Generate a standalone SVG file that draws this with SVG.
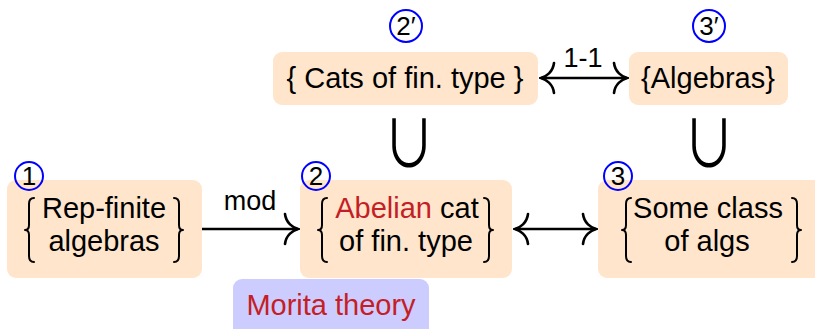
<svg xmlns="http://www.w3.org/2000/svg" width="815" height="329" viewBox="0 0 815 329">
  <style>
    .box { fill: #ffe5cc; }
    .morita { fill: #ccccff; }
    .t { font-family: "Liberation Sans", Arial, sans-serif; font-size: 29px; fill: #000; text-anchor: middle; }
    .lbl { font-family: "Liberation Sans", Arial, sans-serif; font-size: 27px; fill: #000; text-anchor: middle; }
    .red { fill: #c41e26; }
    .num { fill: none; stroke: #0000ff; stroke-width: 2; }
    .numt { font-family: "Liberation Sans", Arial, sans-serif; font-size: 26px; fill: #000; text-anchor: middle; }
    .brace { fill: none; stroke: #000; stroke-width: 2; stroke-linecap: round; stroke-linejoin: round; }
    .edge { fill: none; stroke: #000; stroke-width: 2.6; }
    .cup { font-family: "Noto Sans CJK JP", "DejaVu Sans", sans-serif; font-size: 52px; font-weight: 400; fill: #000; text-anchor: middle; }
  </style>
  <defs>
    <!-- tall left brace, tip at the origin -->
    <path id="lbrace" class="brace" d="M 8,-32 Q 3,-32 3,-26 L 3,-5 Q 3,0 -1,0 Q 3,0 3,5 L 3,26 Q 3,32 8,32"/>
    <!-- curved "to" arrow tip pointing right, tip at the origin -->
    <marker id="tip" viewBox="-15 -17 17 34" refX="0" refY="0" markerWidth="17" markerHeight="34" markerUnits="userSpaceOnUse" orient="auto-start-reverse">
      <path d="M -13,-15 C -12,-6 -5,-1.5 0,0 C -5,1.5 -12,6 -13,15" fill="none" stroke="#000" stroke-width="2.6" stroke-linecap="round"/>
    </marker>
  </defs>

  <!-- bottom row -->
  <g id="n1">
    <rect class="box" x="7" y="180" width="195" height="98" rx="9"/>
    <use href="#lbrace" transform="translate(26,230)"/>
    <use href="#lbrace" transform="translate(182,230) scale(-1,1)"/>
    <text class="t" x="104" y="218">Rep-finite</text>
    <text class="t" x="104" y="251">algebras</text>
    <circle class="num" cx="29" cy="176" r="14"/>
    <text class="numt" x="29" y="185">1</text>
  </g>

  <g id="n2">
    <rect class="box" x="300" y="180" width="212" height="98" rx="9"/>
    <use href="#lbrace" transform="translate(319,230)"/>
    <use href="#lbrace" transform="translate(492,230) scale(-1,1)"/>
    <text class="t" x="407" y="218"><tspan class="red">Abelian</tspan> cat</text>
    <text class="t" x="406" y="251">of fin. type</text>
    <circle class="num" cx="316" cy="176" r="14"/>
    <text class="numt" x="316" y="185">2</text>
  </g>

  <g id="n3">
    <rect class="box" x="598" y="180" width="230" height="98" rx="9"/>
    <use href="#lbrace" transform="translate(623,230)"/>
    <use href="#lbrace" transform="translate(800,230) scale(-1,1)"/>
    <text class="t" x="708" y="218">Some class</text>
    <text class="t" x="707" y="251">of algs</text>
    <circle class="num" cx="618" cy="176" r="14"/>
    <text class="numt" x="618" y="185">3</text>
  </g>

  <!-- top row -->
  <g id="n2p">
    <rect class="box" x="273" y="52" width="265" height="53" rx="9"/>
    <text class="t" x="405" y="88">{ Cats of fin. type }</text>
    <circle class="num" cx="406" cy="26" r="16"/>
    <text class="numt" x="406" y="35">2′</text>
  </g>

  <g id="n3p">
    <rect class="box" x="629" y="52" width="159" height="53" rx="9"/>
    <text class="t" x="708" y="88">{Algebras}</text>
    <circle class="num" cx="709" cy="26" r="16"/>
    <text class="numt" x="709" y="35">3′</text>
  </g>

  <g id="morita">
    <rect class="morita" x="233" y="279" width="196" height="62" rx="9"/>
    <text class="t red" x="331" y="315">Morita theory</text>
  </g>

  <!-- inclusions between the rows -->
  <g id="inclusions">
    <text class="cup" transform="translate(409,167) scale(1,1.25)">∪</text>
    <text class="cup" transform="translate(709,167) scale(1,1.25)">∪</text>
  </g>

  <!-- connectors -->
  <g id="edges">
    <line class="edge" x1="202" y1="229" x2="298" y2="229" marker-end="url(#tip)"/>
    <text class="lbl" x="250" y="210">mod</text>
    <line class="edge" x1="515" y1="229" x2="596" y2="229" marker-start="url(#tip)" marker-end="url(#tip)"/>
    <line class="edge" x1="541" y1="78" x2="627" y2="78" marker-start="url(#tip)" marker-end="url(#tip)"/>
    <text class="lbl" x="583" y="67">1-1</text>
  </g>
</svg>
